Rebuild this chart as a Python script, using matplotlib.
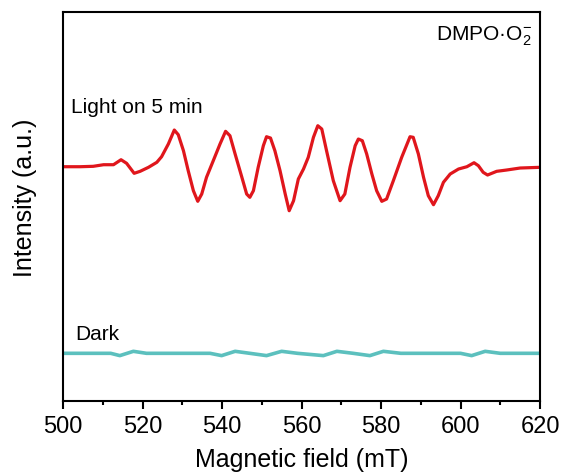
import matplotlib.pyplot as plt
from matplotlib.ticker import MultipleLocator

plt.rcParams['font.family'] = ['Liberation Sans', 'DejaVu Sans']
plt.rcParams['mathtext.fontset'] = 'custom'
plt.rcParams['mathtext.rm'] = 'Liberation Sans'
plt.rcParams['mathtext.it'] = 'Liberation Sans:italic'

# Espectro sob luz (campo em mT, intensidade relativa)
campo_luz = [500, 504.3, 507.6, 510.2, 512.7, 514.6, 516.0, 517.9, 519.4, 521.5,
             523.6, 524.8, 526.5, 528.0, 529.0, 530.3, 531.5, 532.8, 533.9, 534.9,
             536.1, 537.8, 539.5, 540.9, 542.0, 543.3, 545.0, 546.2, 547.0, 547.9,
             549.1, 550.4, 551.2, 552.2, 553.3, 554.6, 555.9, 556.9, 558.0, 559.2,
             560.5, 561.7, 563.0, 564.1, 565.1, 566.3, 568.0, 569.7, 570.9, 572.2,
             573.5, 574.3, 575.3, 576.4, 577.7, 578.9, 580.2, 581.4, 583.1, 585.2,
             587.3, 588.1, 589.4, 590.7, 591.9, 593.2, 594.4, 595.7, 597.4, 599.5,
             601.6, 603.4, 604.5, 605.7, 606.8, 609.1, 611.6, 615.0, 620]
sinal_luz = [0.8, 0.8, 1.2, 2.8, 2.8, 7.8, 4.2, -5.8, -3.8, 0.2,
             5.2, 10.8, 23.5, 37.5, 32.8, 16.8, -3.2, -23.2, -33.8, -26.5,
             -9.8, 6.8, 23.5, 36.2, 31.8, 13.5, -9.8, -26.5, -29.8, -23.2,
             0.2, 21.8, 30.8, 29.5, 16.8, -3.2, -26.5, -43.2, -33.2, -11.5,
             -1.5, 10.2, 30.2, 41.8, 38.5, 16.8, -13.2, -33.2, -26.5, 0.2,
             21.8, 28.5, 26.8, 13.5, -6.5, -23.2, -33.8, -31.5, -13.2, 10.2,
             30.8, 30.2, 13.5, -9.8, -28.2, -37.2, -28.2, -14.8, -6.5, -1.5,
             0.8, 4.8, 1.8, -4.8, -7.5, -3.8, -2.5, -0.5, 0.2]

# Espectro no escuro
campo_escuro = [500, 512, 514.3, 517.7, 521, 537, 539.9, 543.3, 547, 551.2, 555.0,
                559, 565.5, 568.9, 573, 577.2, 580.6, 585, 600, 602.8, 606.2, 610, 620]
sinal_escuro = [0, 0, -2.3, 2.0, 0, 0, -2.3, 2.0, 0, -2.3, 2.0,
                0, -2.3, 2.0, 0, -2.3, 2.0, 0, 0, -2.3, 2.0, 0, 0]

desloc_luz = 233.5
desloc_escuro = 47.7

fig = plt.figure(figsize=(5.61, 4.77), dpi=100)
ax = fig.add_axes([0.1123, 0.1572, 0.8503, 0.8155])

ax.plot(campo_luz, [v + desloc_luz for v in sinal_luz], color='#E0161C', lw=2.3)
ax.plot(campo_escuro, [v + desloc_escuro for v in sinal_escuro], color='#5CC0BE', lw=2.6)

ax.set_xlim(500, 620)
ax.set_ylim(0, 389)
ax.set_yticks([])
ax.xaxis.set_major_locator(MultipleLocator(20))
ax.xaxis.set_minor_locator(MultipleLocator(10))
ax.tick_params(axis='x', which='major', direction='out', length=6, width=1.5, labelsize=17, pad=4)
ax.tick_params(axis='x', which='minor', direction='out', length=3, width=1.5)
for s in ax.spines.values():
    s.set_linewidth(1.5)

ax.set_xlabel('Magnetic field (mT)', fontsize=18, labelpad=7)
ax.set_ylabel('Intensity (a.u.)', fontsize=18)
ax.yaxis.set_label_coords(-0.055, 0.526)

ax.text(502, 295, 'Light on 5 min', fontsize=15, va='center', ha='left')
ax.text(503, 68, 'Dark', fontsize=15, va='center', ha='left')
ax.text(618, 366, r'DMPO·O$_2^{-}$', fontsize=15, va='center', ha='right')

fig.savefig('out.png', dpi=100)
